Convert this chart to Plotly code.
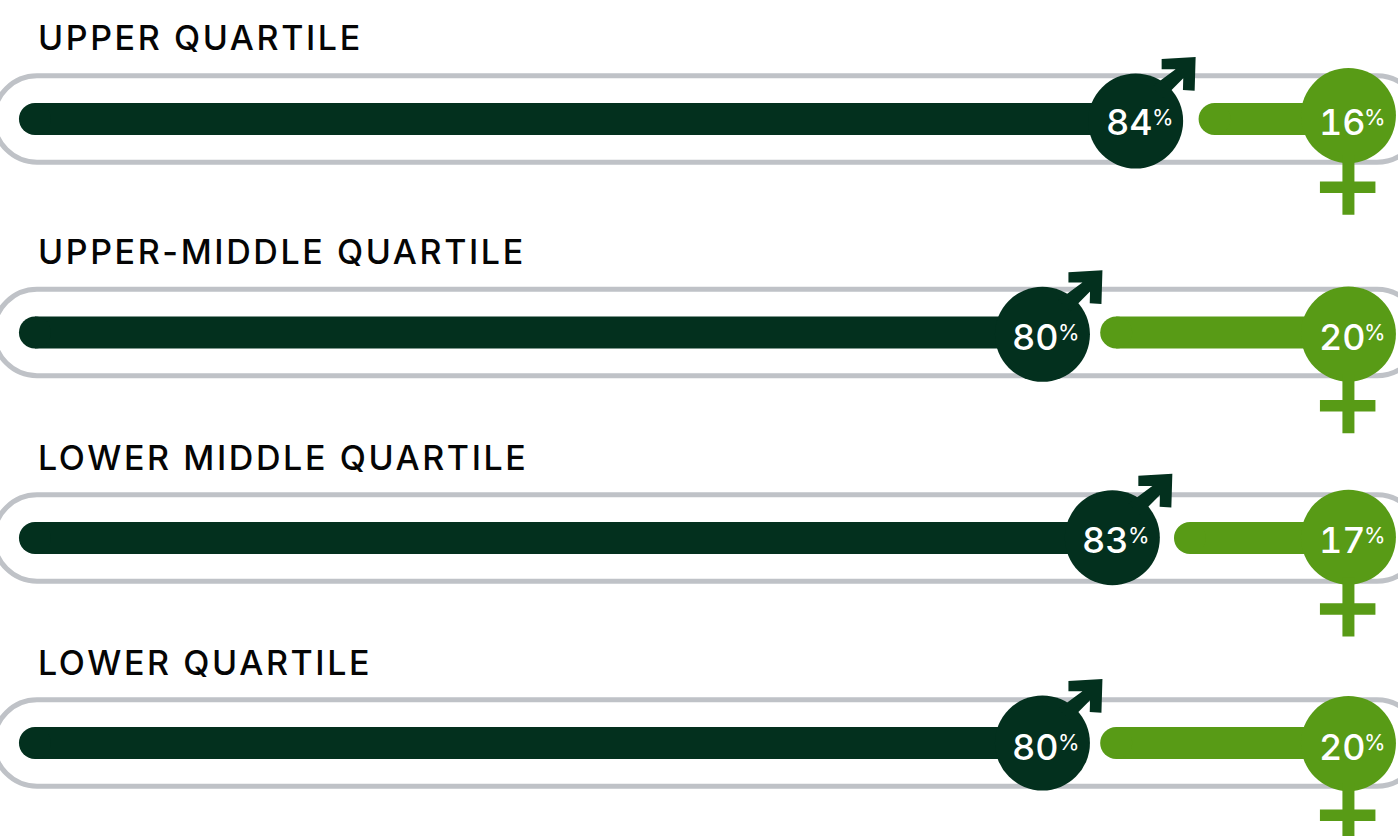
import plotly.graph_objects as go

# Quartile names and the gender split of each one, in percent
quartiles = ["UPPER QUARTILE", "UPPER-MIDDLE QUARTILE", "LOWER MIDDLE QUARTILE", "LOWER QUARTILE"]
male_share = [84, 80, 83, 80]
female_share = [16, 20, 17, 20]

# Vertical placement of each row (axis units equal pixels)
bar_y = [119, 332.5, 538, 743]
male_dot_y = [121, 334.3, 537.7, 743]
female_dot_y = [115.5, 334, 537.2, 743.5]
label_y = [122, 337, 540, 747]
title_y = [37, 251.5, 457, 662]

# Where the truncated bars start on their axes
MALE_BASE = 36.76
FEMALE_BASE = 10.56

DARK = "#03301e"
GREEN = "#589b16"
TRACK = "#bfc2c7"
TITLE_FONT = "Inter"
LABEL_FONT = "Inter"


def pairs(values, base):
    xs, ys = [], []
    for v, y in zip(values, bar_y):
        xs += [base, v, None]
        ys += [y, y, None]
    return xs, ys


fig = go.Figure()


def add_bar_series(values, base, dot_y, color, xaxis):
    xs, ys = pairs(values, base)
    fig.add_trace(go.Scatter(x=xs, y=ys, mode="lines", xaxis=xaxis, hoverinfo="skip",
                             line=dict(color=color, width=32)))
    # Round cap on the free end of each bar
    cap_x = [base] * 4 if xaxis == "x" else values
    fig.add_trace(go.Scatter(x=cap_x, y=bar_y, mode="markers", xaxis=xaxis, hoverinfo="skip",
                             marker=dict(color=color, size=32, line=dict(width=0))))
    dot_x = values if xaxis == "x" else [base] * 4
    fig.add_trace(go.Scatter(x=dot_x, y=dot_y, mode="markers", xaxis=xaxis, hoverinfo="skip",
                             marker=dict(color=color, size=95, line=dict(width=0))))


add_bar_series(male_share, MALE_BASE, male_dot_y, DARK, "x")
add_bar_series(female_share, FEMALE_BASE, female_dot_y, GREEN, "x2")

shapes = []

# Rounded outline behind each row, running past both page edges
R, K = 43.2, 43.2 * 0.5523
L, RT = 37, 1377
pill = (f"M {L} {R} L {RT} {R} C {RT+K} {R} {RT+R} {K} {RT+R} 0 "
        f"C {RT+R} {-K} {RT+K} {-R} {RT} {-R} L {L} {-R} "
        f"C {L-K} {-R} {L-R} {-K} {L-R} 0 C {L-R} {K} {L-K} {R} {L} {R} Z")
for y in bar_y:
    shapes.append(dict(type="path", layer="below", xref="paper", xanchor=0, xsizemode="pixel",
                       yref="y", yanchor=y, ysizemode="pixel", path=pill,
                       line=dict(color=TRACK, width=5), fillcolor="rgba(0,0,0,0)"))

# Mars arrow, offset in pixels from the male dot
mars = ("M 26 62 L 60 64 L 59 30.3 L 47.3 31 L 47.6 42.7 L 28 23 L 16 34 "
        "L 40 51.7 L 26 51.7 Z")
for v, y in zip(male_share, male_dot_y):
    shapes.append(dict(type="path", layer="above", xref="x", xanchor=v, xsizemode="pixel",
                       yref="y", yanchor=y, ysizemode="pixel", path=mars,
                       fillcolor=DARK, line=dict(width=0)))

# Venus cross, offset in pixels from the female dot
venus = ("M -6 -40 L 6 -40 L 6 -66 L 27 -66 L 27 -77.5 L 6 -77.5 L 6 -99.3 L -6 -99.3 "
         "L -6 -77.5 L -28.5 -77.5 L -28.5 -66 L -6 -66 Z")
for y in female_dot_y:
    shapes.append(dict(type="path", layer="above", xref="x2", xanchor=FEMALE_BASE, xsizemode="pixel",
                       yref="y", yanchor=y, ysizemode="pixel", path=venus,
                       fillcolor=GREEN, line=dict(width=0)))

annotations = []
for name, y in zip(quartiles, title_y):
    annotations.append(dict(text=f'<span style="letter-spacing:2.6px">{name}</span>',
                            xref="paper", x=38 / 1398, yref="y", y=y, xanchor="left",
                            yanchor="middle", showarrow=False, xshift=-2,
                            font=dict(family=TITLE_FONT, size=34, color="#050505", weight=500)))


def add_value_label(value, xref, x, y, num_dx, pct_dx):
    annotations.append(dict(text=f'<span style="font-feature-settings:\'tnum\'">{value}</span>',
                            xref=xref, x=x, yref="y", y=y, xanchor="left", yanchor="middle",
                            showarrow=False, xshift=num_dx,
                            font=dict(family=LABEL_FONT, size=36, color="white", weight=500)))
    annotations.append(dict(text="%", xref=xref, x=x, yref="y", y=y, xanchor="left", yanchor="middle",
                            showarrow=False, xshift=pct_dx, yshift=5,
                            font=dict(family=LABEL_FONT, size=22, color="white", weight=400)))


for v, y in zip(male_share, label_y):
    add_value_label(v, "x", v, y, -32, 14)
for v, y in zip(female_share, label_y):
    add_value_label(v, "x2", FEMALE_BASE, y, -31, 14)

fig.update_layout(
    width=1398, height=836, margin=dict(l=0, r=0, t=0, b=0),
    paper_bgcolor="white", plot_bgcolor="white", showlegend=False,
    shapes=shapes, annotations=annotations,
    xaxis=dict(range=[35.26, 95.26], visible=False, fixedrange=True),
    xaxis2=dict(range=[65.37, 8.545], visible=False, overlaying="x", anchor="y", fixedrange=True),
    yaxis=dict(range=[836, 0], visible=False, fixedrange=True),
)

fig.write_html("out.html", config=dict(displayModeBar=False))
